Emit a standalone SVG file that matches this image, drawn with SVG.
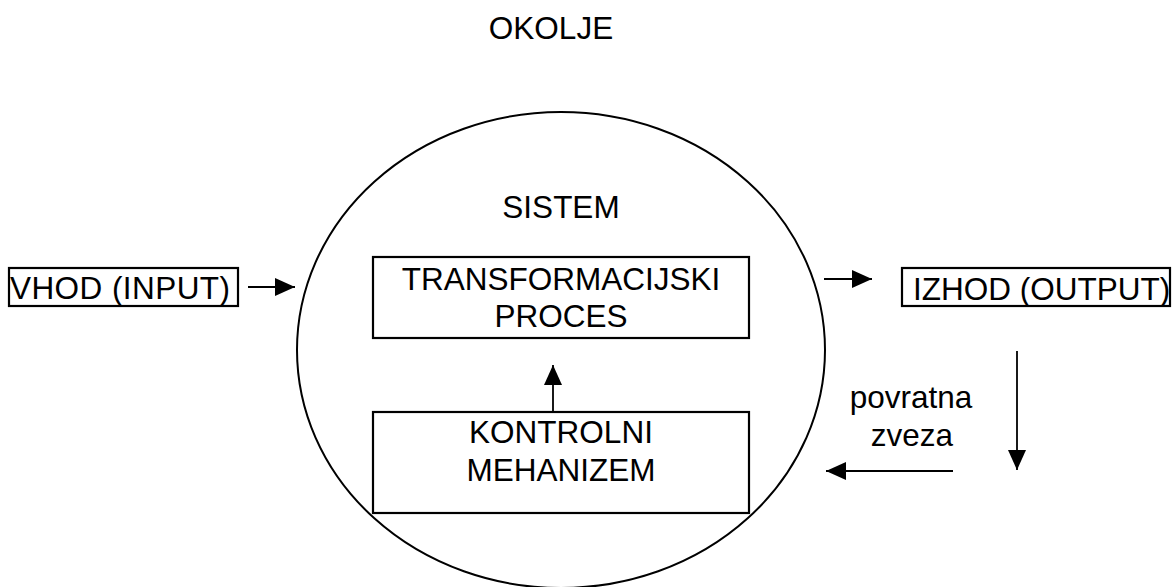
<svg xmlns="http://www.w3.org/2000/svg" width="1174" height="587" viewBox="0 0 1174 587">
<style>
  text { font-family: "Liberation Sans", Arial, sans-serif; font-size: 31.5px; fill: #000; }
  .c { text-anchor: middle; }
  .box { fill: #fff; stroke: #000; stroke-width: 2.2; }
  .ln { stroke: #000; stroke-width: 1.8; fill: none; }
</style>
<defs>
  <marker id="ah" viewBox="0 0 20 18" refX="20" refY="9" markerWidth="20" markerHeight="18" markerUnits="userSpaceOnUse" orient="auto">
    <path d="M0,0 L20,9 L0,18 z" fill="#000"/>
  </marker>
</defs>
<rect width="1174" height="587" fill="#fff"/>
<g id="okolje"><text class="c" x="551" y="39">OKOLJE</text></g>
<g id="sistem">
  <ellipse cx="561" cy="350" rx="264" ry="238" fill="none" stroke="#000" stroke-width="2"/>
  <text class="c" x="561" y="218">SISTEM</text>
</g>
<g id="transformacijski">
  <rect class="box" x="373" y="257" width="376" height="81"/>
  <text class="c" x="561" y="290">TRANSFORMACIJSKI</text>
  <text class="c" x="561" y="327">PROCES</text>
</g>
<g id="kontrolni">
  <rect class="box" x="373" y="412" width="376" height="101"/>
  <text class="c" x="561" y="443">KONTROLNI</text>
  <text class="c" x="561" y="481">MEHANIZEM</text>
</g>
<g id="vhod">
  <rect class="box" x="9" y="268" width="229" height="38"/>
  <text x="10" y="299" textLength="220" lengthAdjust="spacing">VHOD (INPUT)</text>
</g>
<g id="izhod">
  <rect class="box" x="902" y="268" width="268" height="38"/>
  <text x="913" y="300">IZHOD (OUTPUT)</text>
</g>
<g id="povratna">
  <text class="c" x="911" y="408">povratna</text>
  <text class="c" x="912" y="446">zveza</text>
</g>
<g id="connectors">
  <line class="ln" x1="248" y1="287" x2="295" y2="287" marker-end="url(#ah)"/>
  <line class="ln" x1="824" y1="279" x2="872" y2="279" marker-end="url(#ah)"/>
  <line class="ln" x1="553" y1="412" x2="553" y2="365" marker-end="url(#ah)"/>
  <line class="ln" x1="1017" y1="351" x2="1017" y2="470" marker-end="url(#ah)"/>
  <line class="ln" x1="953" y1="471" x2="826" y2="471" marker-end="url(#ah)"/>
</g>
</svg>
